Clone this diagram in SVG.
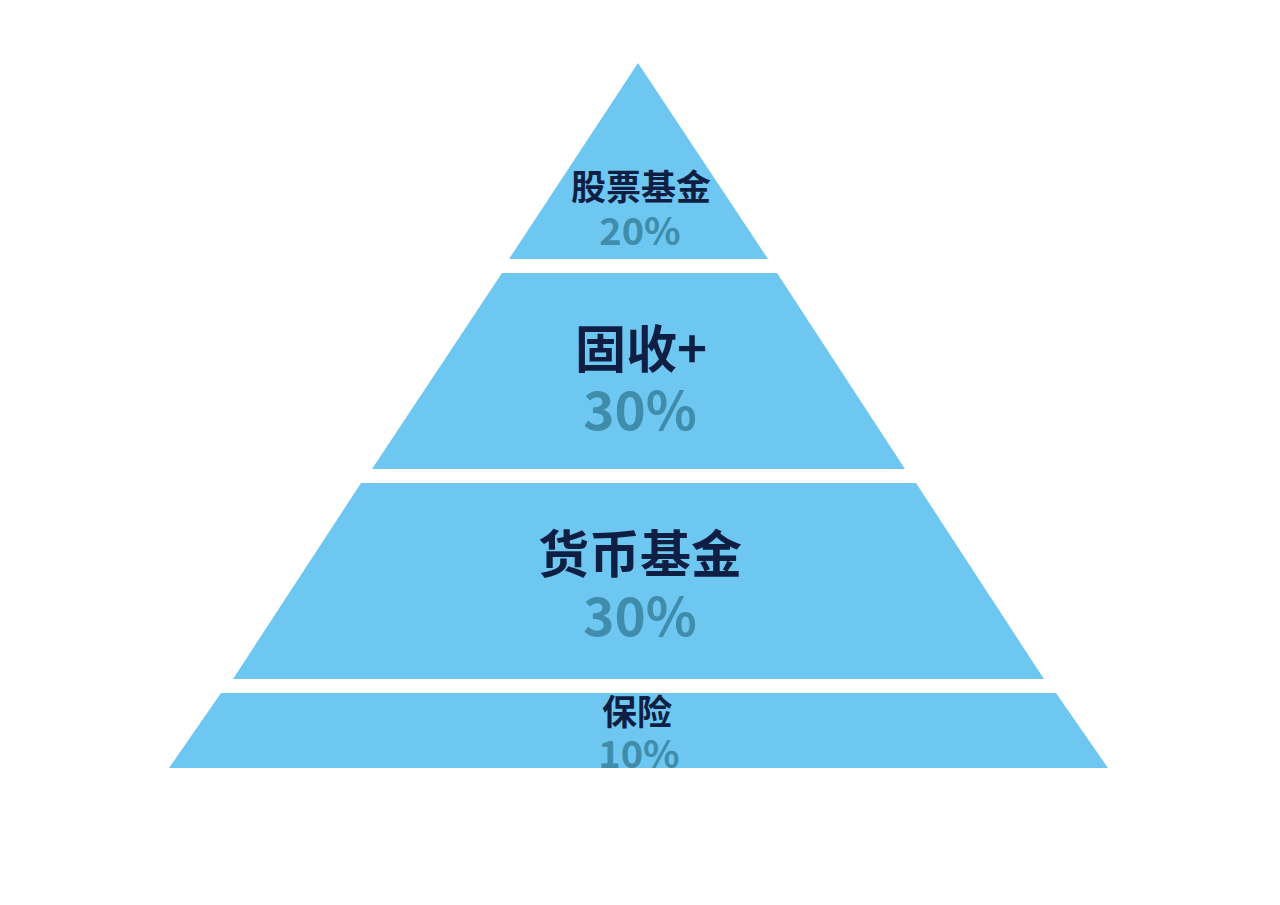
<svg xmlns="http://www.w3.org/2000/svg" width="1280" height="905" viewBox="0 0 1280 905">
<style>
.layer{fill:#6EC7F1}
.lbl{font-family:"Noto Sans CJK SC","Noto Sans",sans-serif;font-weight:bold;fill:#0E1F43;text-anchor:middle}
.pct{font-family:"Noto Sans CJK SC","Noto Sans",sans-serif;font-weight:bold;fill:#3F8CAB;text-anchor:middle}
</style>
<rect width="1280" height="905" fill="#FFFFFF"/>
<g id="layer-stock">
<polygon class="layer" points="638,63 768,259 509,259"/>
<text class="lbl" x="641" y="200" font-size="35">股票基金</text>
<text class="pct" x="640" y="245" font-size="38">20%</text>
</g>
<g id="layer-fixed-plus">
<polygon class="layer" points="502,273 777,273 905,469 372,469"/>
<text class="lbl" x="641" y="368" font-size="51">固收+</text>
<text class="pct" x="640" y="430" font-size="53">30%</text>
</g>
<g id="layer-money">
<polygon class="layer" points="361,483 916,483 1044,679 233,679"/>
<text class="lbl" x="640" y="573" font-size="51">货币基金</text>
<text class="pct" x="640" y="636" font-size="53">30%</text>
</g>
<g id="layer-insurance">
<polygon class="layer" points="221,693 1056,693 1108,768 169,768"/>
<text class="lbl" x="637" y="725" font-size="35">保险</text>
<text class="pct" x="639" y="768" font-size="38">10%</text>
</g>
<g id="connectors"></g>
</svg>
